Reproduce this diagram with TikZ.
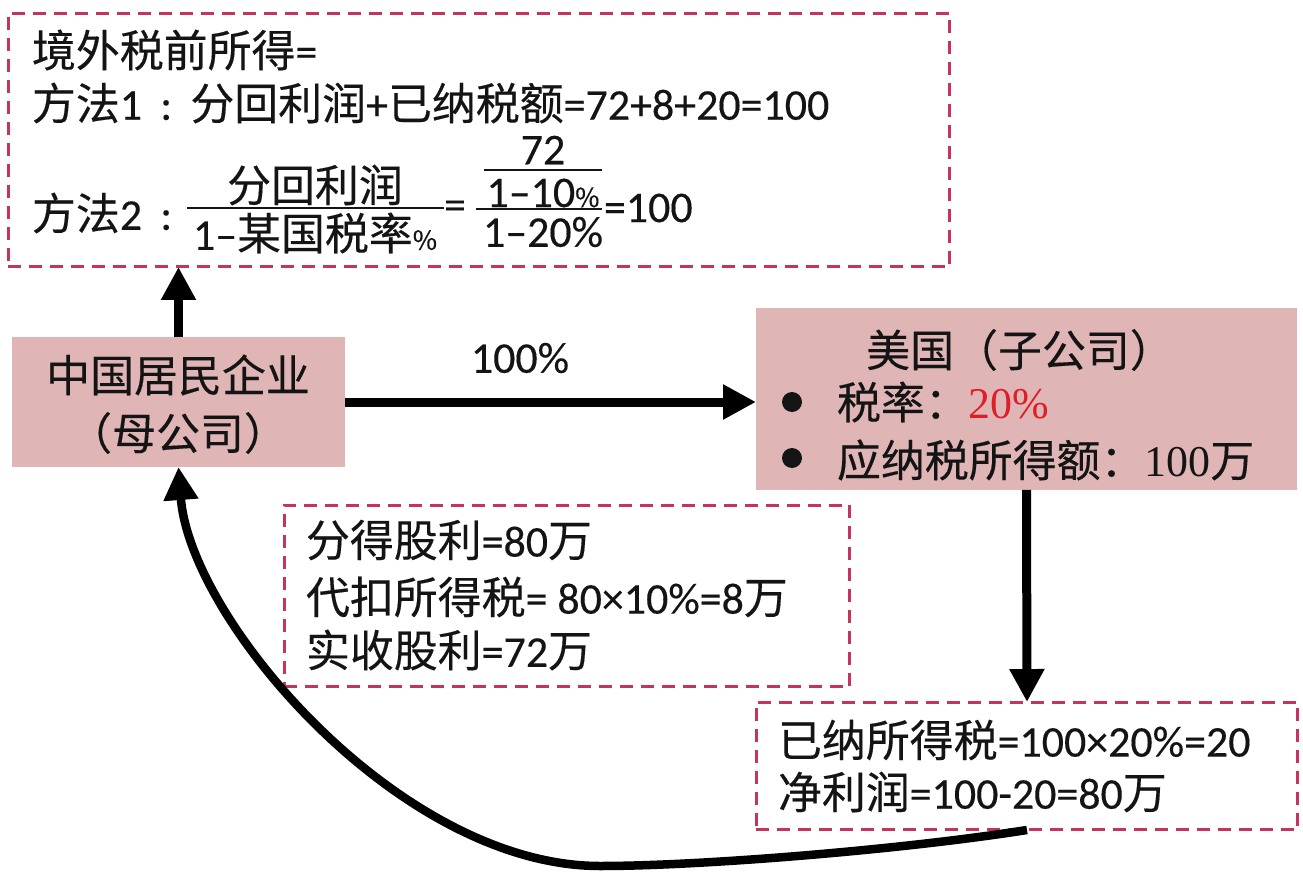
\documentclass[tikz,border=0pt]{standalone}
\usepackage{fontspec}
\setmainfont{Noto Sans CJK SC}[FakeBold=0.3]
\newfontfamily\lat{Carlito}[FakeBold=0.3]
\newfontfamily\ser{Liberation Serif}
\usetikzlibrary{arrows.meta}
\definecolor{boxpink}{RGB}{223,181,182}
\definecolor{dashred}{RGB}{198,52,92}
\definecolor{txtred}{RGB}{222,30,40}
\definecolor{ink}{RGB}{20,20,20}
\tikzset{
  base/.style={font=\fontsize{25}{30}\selectfont, text=ink, inner sep=0pt, outer sep=0pt},
  txt/.style={base, anchor=west},
  ctxt/.style={base, anchor=center},
  pinkbox/.style={fill=boxpink, draw=none, inner sep=0pt, outer sep=0pt},
  dashbox/.style={draw=dashred, line width=0.06cm, dash pattern=on 0.26cm off 0.16cm, inner sep=0pt, outer sep=0pt, fill=white},
  bigarrow/.style={line width=0.18cm, -{Triangle[length=0.66cm,width=0.66cm]}},
  curvearrow/.style={line width=0.17cm, -{Triangle[length=0.66cm,width=0.66cm]}},
  fracbar/.style={line width=0.045cm, draw=ink},
  bullet/.style={circle, fill=ink, inner sep=0pt, minimum size=0.4cm},
}
\newcommand{\smallpct}{{\fontsize{15}{18}\selectfont\%}}
\newcommand{\ccolon}{{\lat\makebox[1.1em][c]{:}}}
\begin{document}
\begin{tikzpicture}[x=0.02cm,y=-0.02cm]
\useasboundingbox (0,0) rectangle (1303,876);
\fill[white] (0,0) rectangle (1303,876);

% boxes
\node[dashbox, minimum width=18.84cm, minimum height=5.08cm] (tb) at (479,140) {};
\node[pinkbox, minimum width=6.66cm, minimum height=2.6cm] (pa) at (178.5,402) {};
\node[pinkbox, minimum width=10.82cm, minimum height=3.64cm] (us) at (1026.5,399) {};
\node[dashbox, minimum width=11.32cm, minimum height=3.64cm] (mb) at (567,596) {};
\node[dashbox, minimum width=10.84cm, minimum height=2.56cm] (nr) at (1027,766) {};

% top box text
\node[txt] (t1) at (32,50) {境外税前所得{\lat =}};
\node[txt] (t2) at (32,103) {方法{\lat 1}\ccolon 分回利润{\lat +}已纳税额{\lat =72+8+20=100}};
\node[txt] (t3) at (32,213) {方法{\lat 2}\ccolon};
\node[ctxt] (f1n) at (315,185) {分回利润};
\node[ctxt] (f1d) at (315,233) {{\lat 1–}某国税率\smallpct};
\draw[fracbar] (187,208) -- (444,208);
\node[ctxt] (eq1) at (455,210) {\lat =};
\node[ctxt] (f2a) at (543,150) {\lat 72};
\draw[fracbar] (484,170) -- (602,170);
\node[ctxt] (f2b) at (543,193) {{\lat 1–10}\smallpct};
\draw[fracbar] (476,209) -- (602,209);
\node[ctxt] (f2c) at (543,232) {\lat 1–20\%};
\node[txt] (eq2) at (604,208) {\lat =100};

% parent box text
\node[ctxt] (pa1) at (178,375) {中国居民企业};
\node[ctxt] (pa2) at (178,433) {（母公司）};

% US box text
\node[ctxt] (us1) at (1020,350) {美国（子公司）};
\node[bullet] (b1) at (792,402) {};
\node[bullet] (b2) at (792,458) {};
\node[txt] (us2) at (837,402) {税率：{\ser\color{txtred}20\%}};
\node[txt] (us3) at (837,460) {应纳税所得额：{\ser 100}万};

% label
\node[ctxt] (lbl) at (520,358) {\lat 100\%};

% middle box text
\node[txt] (m1) at (306,540) {分得股利{\lat =80}万};
\node[txt] (m2) at (306,597) {代扣所得税{\lat = 80×10\%=8}万};
\node[txt] (m3) at (306,650) {实收股利{\lat =72}万};

% lower right box text
\node[txt] (n1) at (778,740) {已纳所得税{\lat =100×20\%=20}};
\node[txt] (n2) at (778,792) {净利润{\lat =100-20=80}万};

% connectors
\draw[bigarrow] (pa.north) -- (pa.north |- tb.south);
\draw[bigarrow] (pa.east) -- (pa.east -| us.west);
\draw[bigarrow] (us.south) -- (nr.north);
\draw[curvearrow] (nr.south) .. controls (900,850) and (700,866) .. (600,866)
   .. controls (400,866) and (190,620) .. (pa.south);
\end{tikzpicture}
\end{document}
